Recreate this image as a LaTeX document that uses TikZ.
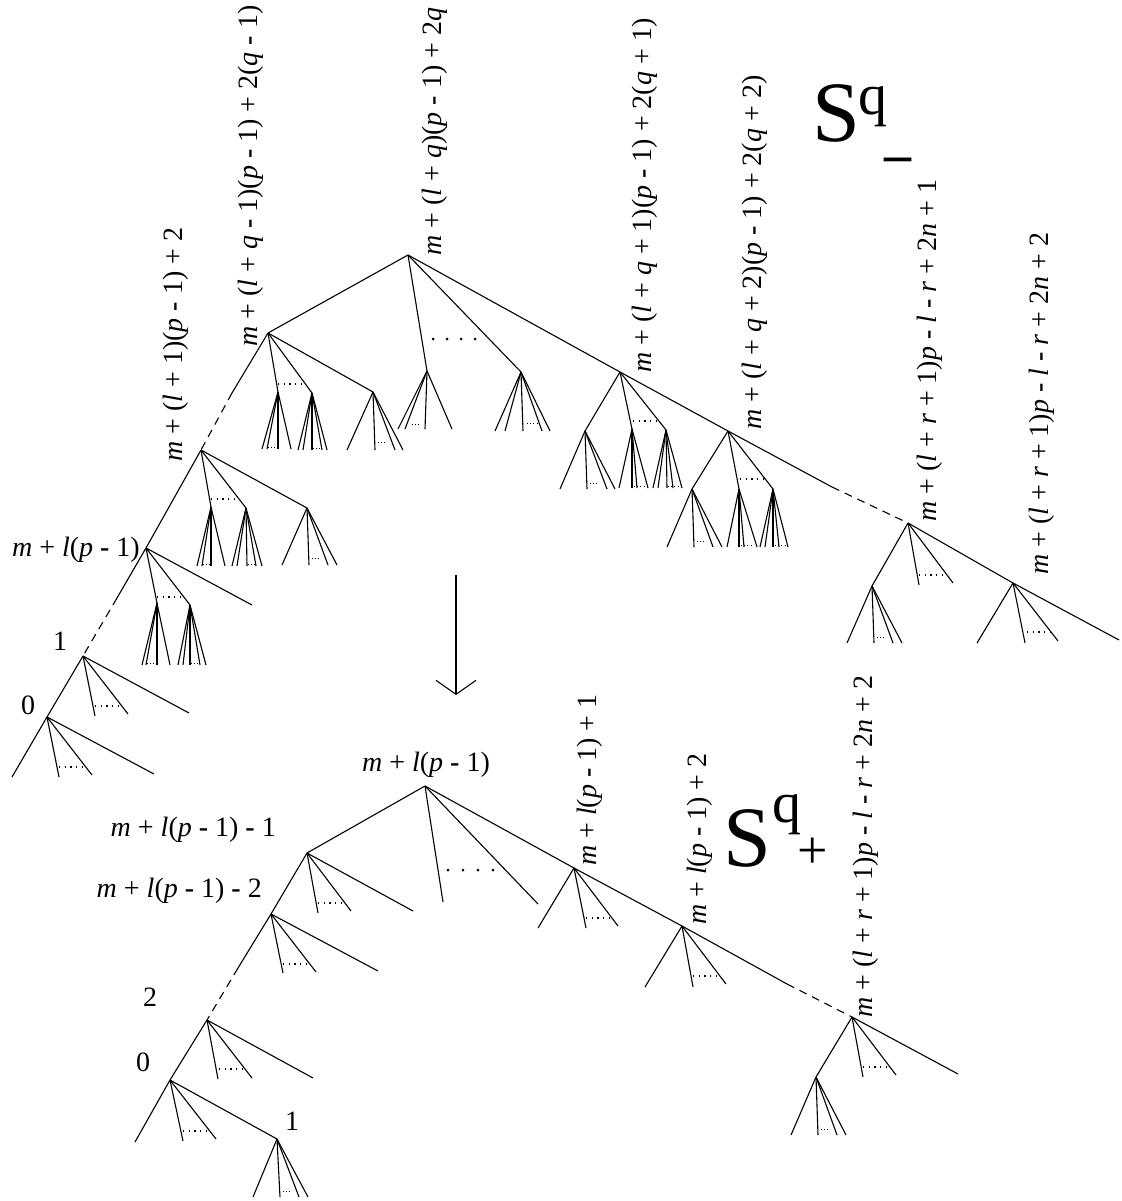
\documentclass[tikz,border=0pt]{standalone}
\usepackage{fontspec}
\newfontfamily\tfont{Liberation Serif}
\usetikzlibrary{arrows.meta}
\tikzset{
 edge/.style={line width=1.1pt},
 dashedge/.style={line width=1.1pt, dash pattern=on 8pt off 6pt},
 mdots/.style={line width=1.2pt, dash pattern=on 1.2pt off 4.5pt},
 fdots/.style={line width=0.8pt, dash pattern=on 0.8pt off 2.4pt},
 lbl/.style={inner sep=0pt, font=\tfont\fontsize{28}{30}\selectfont},
 vlbl/.style={lbl, rotate=90, anchor=base west},
 hlbl/.style={lbl, anchor=base east},
 bigS/.style={inner sep=0pt, anchor=base west, font=\tfont\fontsize{86}{90}\selectfont},
 bigq/.style={inner sep=0pt, anchor=base west, font=\tfont\fontsize{58}{60}\selectfont},
 bigsign/.style={inner sep=0pt, anchor=base west, font=\tfont\fontsize{54}{60}\selectfont},
}
\newcommand{\mi}[1]{\textit{#1}}
\newcommand{\mn}{\textbf{-}}
\newcommand{\fan}[6]{%
  \foreach \dx in {#2}{\draw[edge] (#1) -- ++(\dx,#3);}%
  \draw[fdots] ([shift={(#4,#6)}]#1) -- ([shift={(#5,#6)}]#1);}
\begin{document}
\begin{tikzpicture}[x=1pt,y=-1pt]
\useasboundingbox (0,0) rectangle (1121,1201);
\foreach \n/\x/\y in {
 R/408/255, A/268/333, Aa/232/393, F/201/450, G/146/548, Gh/117/598, H/83/656, I/47/717, Iend/12/777,
 r1/427/371, r2/521/372, a1/278/392, a2/312/393, a3/373/392,
 f1/211/507, f2/246/508, f3/307/508, g1/157/603, g2/190/605, gl/252/605,
 hl1/95/716, hl2/128/714, hl3/189/713, il1/59/777, il2/92/775, il3/154/774,
 B/620/372, C/728/431, Cd/832/487, D/908/523, E/1013/583, Eend/1119/640,
 b1/585/431, b2/632/429, b3/666/430, c1/692/489, c2/739/489, c3/773/489,
 d1/872/586, dl2/919/585, dl3/953/583, el1/977/643, el2/1025/643, el3/1058/641,
 R2/425/786, A2/307/853, A3/271/914, A3s/238/968, A4/207/1020, A5/170/1080, A5end/135/1142,
 r2la/443/902, r2lb/538/904,
 a2la/318/913, a2lb/351/911, a2lc/413/911,
 a3la/283/973, a3lb/316/972, a3lc/378/971,
 a4la/218/1079, a4lb/252/1078, a4lc/313/1078,
 a5la/183/1141, a5lb/216/1139, a51/277/1139,
 B2/574/868, C2/682/926, C2s/787/984, D2/852/1017, D2end/958/1074,
 b2la/538/928, b2lb/586/928, b2lc/618/926,
 c2la/645/987, c2lb/693/987, c2lc/726/984,
 d21/816/1077, d2lb/863/1077, d2lc/896/1075,
 arrT/456/575, arrB/456/695}
 \coordinate (\n) at (\x,\y);

% ---------- top tree ----------
\draw[edge] (R) -- (B) -- (C) -- (Cd);
\draw[dashedge] (Cd) -- (D);
\draw[edge] (D) -- (E) -- (Eend);
\draw[edge] (R) -- (A) -- (Aa);
\draw[dashedge] (Aa) -- (F);
\draw[edge] (F) -- (G) -- (Gh);
\draw[dashedge] (Gh) -- (H);
\draw[edge] (H) -- (I) -- (Iend);

\foreach \s/\t in {R/r1, R/r2, A/a1, A/a2, A/a3, F/f1, F/f2, F/f3, G/g1, G/g2, G/gl,
  H/hl1, H/hl2, H/hl3, I/il1, I/il2, I/il3, B/b1, B/b2, B/b3, C/c1, C/c2, C/c3,
  D/d1, D/dl2, D/dl3, E/el1, E/el2, E/el3}
  \draw[edge] (\s) -- (\t);

\fan{a1}{-16,-11,0,13}{57}{-10}{-1}{55}
\fan{a2}{-14,-9,0,10,15}{57}{1}{9}{55}
\fan{a3}{-26,2,22,30}{58}{5}{14}{50}
\fan{r1}{-29,-22,-2,25}{58}{-15}{-6}{53}
\fan{r2}{-26,-16,2,21,29}{59}{6}{16}{51}
\fan{b1}{-25,2,22,30}{58}{5}{13}{52}
\fan{b2}{-13,0,5,16}{59}{2}{13}{57}
\fan{b3}{-13,-8,1,7,16}{58}{2}{12}{56}
\fan{c1}{-25,2,21,30}{58}{5}{13}{52}
\fan{c2}{-12,0,5,18}{58}{2}{12}{56}
\fan{c3}{-13,-8,0,6,15}{58}{2}{12}{56}
\fan{d1}{-25,2,21,30}{57}{5}{13}{51}
\fan{f1}{-14,-9,0,14}{59}{-8}{-1}{57}
\fan{f2}{-14,-9,1,10,16}{58}{2}{10}{56}
\fan{f3}{-25,2,21,30}{57}{5}{13}{50}
\fan{g1}{-15,-11,0,13}{62}{-10}{-2}{60}
\fan{g2}{-12,-7,0,10,16}{60}{1}{10}{58}

\draw[mdots] (278,384) -- (303,384);
\draw[mdots] (211,499) -- (237,499);
\draw[mdots] (157,597) -- (183,597);
\draw[mdots] (95,706) -- (122,706);
\draw[mdots] (59,767) -- (85,767);
\draw[mdots] (633,421) -- (658,421);
\draw[mdots] (740,479) -- (767,479);
\draw[mdots] (919,575) -- (947,575);
\draw[mdots] (1027,632) -- (1050,632);
\foreach \x in {433,447,461,475} \fill (\x,339) circle (1.5);

% labels top
\node[vlbl] at (441,256) {\mi{m} + (\mi{l} + \mi{q})(\mi{p} \mn{} 1) + 2\mi{q}};
\node[vlbl] at (257,347) {\mi{m} + (\mi{l} + \mi{q} \mn{} 1)(\mi{p} \mn{} 1) + 2(\mi{q} \mn{} 1)};
\node[vlbl] at (182,462) {\mi{m} + (\mi{l} + 1)(\mi{p} \mn{} 1) + 2};
\node[vlbl] at (651,373) {\mi{m} + (\mi{l} + \mi{q} + 1)(\mi{p} \mn{} 1) + 2(\mi{q} + 1)};
\node[vlbl] at (761,430) {\mi{m} + (\mi{l} + \mi{q} + 2)(\mi{p} \mn{} 1) + 2(\mi{q} + 2)};
\node[vlbl] at (936,522) {\mi{m} + (\mi{l} + \mi{r} + 1)\mi{p} \mn{} \mi{l} \mn{} \mi{r} + 2\mi{n} + 1};
\node[vlbl] at (1048,575) {\mi{m} + (\mi{l} + \mi{r} + 1)\mi{p} \mn{} \mi{l} \mn{} \mi{r} + 2\mi{n} + 2};
\node[hlbl] at (140,556) {\mi{m} + \mi{l}(\mi{p} \mn{} 1)};
\node[lbl, anchor=base] at (60,650) {1};
\node[lbl, anchor=base] at (28,714) {0};

\node[bigS] at (812,142) {S};
\node[bigq] at (858,115) {q};
\node[bigsign] at (884,172) {\textbf{–}};

% arrow
\draw[line width=1.2pt, -{Straight Barb[length=14pt,width=40pt,line width=1.1pt]}] (arrT) -- (arrB);

% ---------- bottom tree ----------
\draw[edge] (R2) -- (B2) -- (C2) -- (C2s);
\draw[dashedge] (C2s) -- (D2);
\draw[edge] (D2) -- (D2end);
\draw[edge] (R2) -- (A2) -- (A3) -- (A3s);
\draw[dashedge] (A3s) -- (A4);
\draw[edge] (A4) -- (A5) -- (A5end);

\foreach \s/\t in {R2/r2la, R2/r2lb, A2/a2la, A2/a2lb, A2/a2lc, A3/a3la, A3/a3lb, A3/a3lc,
  A4/a4la, A4/a4lb, A4/a4lc, A5/a5la, A5/a5lb, A5/a51, B2/b2la, B2/b2lb, B2/b2lc,
  C2/c2la, C2/c2lb, C2/c2lc, D2/d21, D2/d2lb, D2/d2lc}
  \draw[edge] (\s) -- (\t);

\fan{a51}{-24,3,22,31}{58}{6}{14}{52}
\fan{d21}{-25,2,21,30}{58}{5}{13}{52}

\draw[mdots] (318,903) -- (343,903);
\draw[mdots] (283,964) -- (307,964);
\draw[mdots] (219,1069) -- (245,1069);
\draw[mdots] (183,1131) -- (208,1131);
\draw[mdots] (586,918) -- (612,918);
\draw[mdots] (693,976) -- (718,976);
\draw[mdots] (863,1067) -- (888,1067);
\foreach \x in {448,463,478,493} \fill (\x,870) circle (1.5);

% labels bottom
\node[lbl, anchor=base] at (426,771) {\mi{m} + \mi{l}(\mi{p} \mn{} 1)};
\node[hlbl] at (276,836) {\mi{m} + \mi{l}(\mi{p} \mn{} 1) \mn{} 1};
\node[hlbl] at (262,897) {\mi{m} + \mi{l}(\mi{p} \mn{} 1) \mn{} 2};
\node[lbl, anchor=base] at (150,1006) {2};
\node[lbl, anchor=base] at (143,1071) {0};
\node[lbl, anchor=base] at (292,1130) {1};
\node[vlbl] at (596,866) {\mi{m} + \mi{l}(\mi{p} \mn{} 1) + 1};
\node[vlbl] at (706,925) {\mi{m} + \mi{l}(\mi{p} \mn{} 1) + 2};
\node[vlbl] at (872,1018) {\mi{m} + (\mi{l} + \mi{r} + 1)\mi{p} \mn{} \mi{l} \mn{} \mi{r} + 2\mi{n} + 2};

\node[bigS] at (723,866) {S};
\node[bigq] at (772,822) {q};
\node[bigsign] at (797,868) {+};
\end{tikzpicture}
\end{document}
